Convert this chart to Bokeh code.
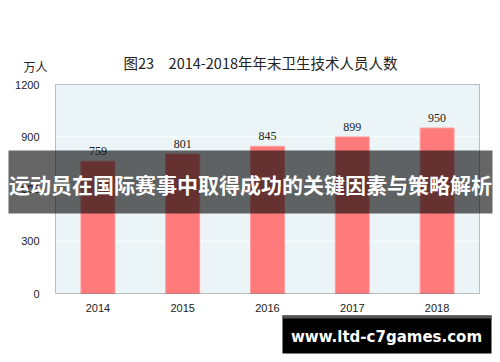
from bokeh.plotting import figure
from bokeh.models import (ColumnDataSource, Range1d, LabelSet, Label, BoxAnnotation, FixedTicker,
                          LinearAxis)
from bokeh.embed import file_html
from bokeh.resources import INLINE

years = [2014, 2015, 2016, 2017, 2018]
values = [759, 801, 845, 899, 950]
y_ticks = [0, 300, 600, 900, 1200]
title_text = "图23\u30002014-2018年年末卫生技术人员人数"
unit_text = "万人"
banner_text = "运动员在国际赛事中取得成功的关键因素与策略解析"
url_text = "www.ltd-c7games.com"

W, H = 500, 362
# plot area in canvas pixels
PL, PR, PT, PB = 55, 479, 84, 293
x_lo, x_hi = years[0] - 0.5, years[-1] + 0.5
y_lo, y_hi = y_ticks[0], y_ticks[-1]
xs = (x_hi - x_lo) / (PR - PL)
ys = (y_hi - y_lo) / (PB - PT)

src = ColumnDataSource(data=dict(year=years, value=values, label=[str(v) for v in values]))

p = figure(width=W, height=H,
           x_range=Range1d(x_lo - PL * xs, x_hi + (W - PR) * xs),
           y_range=Range1d(y_lo - (H - PB) * ys, y_hi + PT * ys),
           output_backend="svg", toolbar_location=None,
           x_axis_location=None, y_axis_location=None,
           min_border=0)
p.background_fill_color = "white"
p.border_fill_color = "white"
p.outline_line_color = None
p.grid.grid_line_color = None

# plot area background
p.add_layout(BoxAnnotation(left=x_lo, right=x_hi, bottom=y_lo, top=y_hi, fill_color="#EBF4F7",
                           fill_alpha=1, line_color=None, level="underlay"))
# grid lines
p.segment(x0=[x_lo] * 3, x1=[x_hi] * 3, y0=y_ticks[1:-1], y1=y_ticks[1:-1], line_color="white", line_width=1)

p.vbar(x="year", top="value", width=0.4, source=src, fill_color="#FF7B7B", line_color="#FF9C9C", line_width=1)

# frame outline
p.add_layout(BoxAnnotation(left=x_lo, right=x_hi, bottom=y_lo, top=y_hi, fill_color=None,
                           line_color="#333333", line_width=1, level="annotation"))

yax = LinearAxis(fixed_location=x_lo, ticker=FixedTicker(ticks=y_ticks))
xax = LinearAxis(fixed_location=y_lo, ticker=FixedTicker(ticks=years))
for ax in (xax, yax):
    ax.axis_line_color = None
    ax.major_tick_line_color = None
    ax.minor_tick_line_color = None
    ax.major_label_text_font = "Liberation Sans"
    ax.major_label_text_font_size = "11px"
    ax.major_label_text_color = "#222222"
yax.major_label_standoff = 10
xax.major_label_standoff = 4
p.add_layout(yax, "left")
p.add_layout(xax, "below")

labels = LabelSet(x="year", y="value", text="label", source=src, text_align="center", text_baseline="middle",
                  y_offset=10, text_font="Liberation Sans", text_font_size="12px", text_color="#222222")
p.add_layout(labels)

p.add_layout(Label(x=260, y=62, x_units="canvas", y_units="canvas", text=title_text, text_align="center",
                   text_baseline="middle", text_font="Noto Sans CJK SC", text_font_size="14.5px", text_color="#222222"))
p.add_layout(Label(x=35, y=66, x_units="canvas", y_units="canvas", text=unit_text, text_align="center",
                   text_baseline="middle", text_font="Noto Sans CJK SC", text_font_size="12px", text_color="#222222"))

# banner overlay
p.add_layout(BoxAnnotation(left=8, right=492, top=150, bottom=213, left_units="canvas", right_units="canvas",
                           top_units="canvas", bottom_units="canvas", fill_color="black", fill_alpha=0.6,
                           line_color=None, level="overlay"))
p.add_layout(Label(x=250, y=183, x_units="canvas", y_units="canvas", text=banner_text, text_align="center",
                   text_baseline="middle", text_font="Noto Sans CJK SC", text_font_style="bold",
                   text_font_size="21px", text_color="white", level="overlay"))

# url box
p.add_layout(BoxAnnotation(left=282, right=491, top=315, bottom=353, left_units="canvas", right_units="canvas",
                           top_units="canvas", bottom_units="canvas", fill_color="black", fill_alpha=1,
                           line_color=None, level="overlay"))
p.add_layout(BoxAnnotation(left=282, right=491, top=315, bottom=318, left_units="canvas", right_units="canvas",
                           top_units="canvas", bottom_units="canvas", fill_color="#555555", fill_alpha=1,
                           line_color=None, level="overlay"))
p.add_layout(Label(x=386, y=336, x_units="canvas", y_units="canvas", text=url_text, text_align="center",
                   text_baseline="middle", text_font="DejaVu Sans", text_font_style="bold",
                   text_font_size="15px", text_color="white", level="overlay"))

open("out.html", "w").write(file_html(p, INLINE))
